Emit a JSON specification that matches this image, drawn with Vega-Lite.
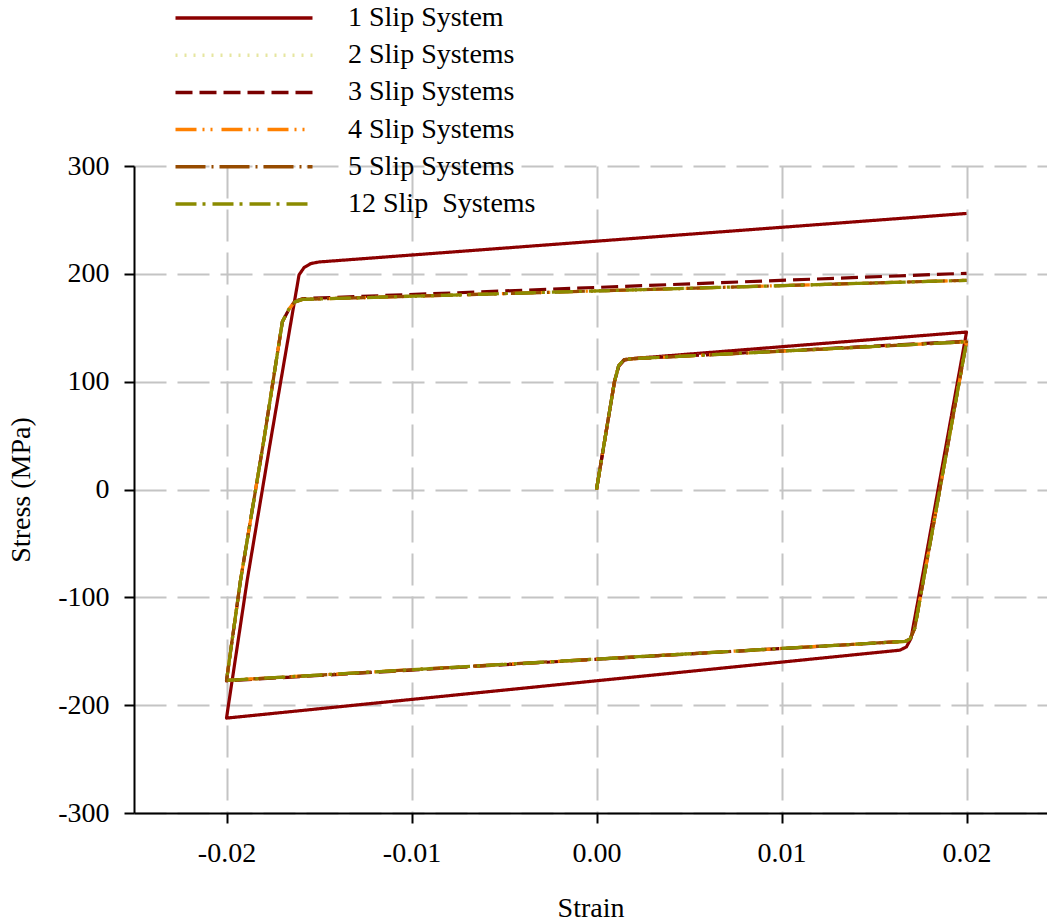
{
  "$schema": "https://vega.github.io/schema/vega-lite/v6.json",
  "width": 913,
  "height": 647,
  "autosize": {"type": "none"},
  "padding": {"left": 134, "top": 166, "right": 0, "bottom": 109},
  "background": "white",
  "config": {
    "view": {"stroke": null},
    "font": "Liberation Serif",
    "axis": {
      "labelFont": "Liberation Serif",
      "labelFontSize": 28,
      "labelColor": "black",
      "titleFont": "Liberation Serif",
      "titleFontSize": 28,
      "titleFontWeight": "normal",
      "titleColor": "black",
      "domainColor": "black",
      "domainWidth": 2,
      "tickColor": "black",
      "tickWidth": 2,
      "tickSize": 10,
      "gridColor": "#c4c4c4",
      "gridWidth": 2,
      "gridDash": [32, 11],
      "gridOpacity": 1
    }
  },
  "data": {
    "values": [
      {"s": "1 Slip System", "i": 0, "x": 0, "y": 0},
      {"s": "1 Slip System", "i": 1, "x": 0.00097, "y": 100},
      {"s": "1 Slip System", "i": 2, "x": 0.0012, "y": 114},
      {"s": "1 Slip System", "i": 3, "x": 0.0015, "y": 120},
      {"s": "1 Slip System", "i": 4, "x": 0.002, "y": 121.5},
      {"s": "1 Slip System", "i": 5, "x": 0.02, "y": 146},
      {"s": "1 Slip System", "i": 6, "x": 0.01758, "y": -84},
      {"s": "1 Slip System", "i": 7, "x": 0.017, "y": -138},
      {"s": "1 Slip System", "i": 8, "x": 0.01675, "y": -146},
      {"s": "1 Slip System", "i": 9, "x": 0.0164, "y": -149},
      {"s": "1 Slip System", "i": 10, "x": -0.02, "y": -212},
      {"s": "1 Slip System", "i": 11, "x": -0.01888, "y": -84},
      {"s": "1 Slip System", "i": 12, "x": -0.01761, "y": 46},
      {"s": "1 Slip System", "i": 13, "x": -0.01608, "y": 199},
      {"s": "1 Slip System", "i": 14, "x": -0.0158, "y": 206},
      {"s": "1 Slip System", "i": 15, "x": -0.01545, "y": 209.5},
      {"s": "1 Slip System", "i": 16, "x": -0.015, "y": 211},
      {"s": "1 Slip System", "i": 17, "x": 0.02, "y": 256},

      {"s": "2 Slip Systems", "i": 0, "x": 0, "y": 0},
      {"s": "2 Slip Systems", "i": 1, "x": 0.00097, "y": 100},
      {"s": "2 Slip Systems", "i": 2, "x": 0.0012, "y": 115},
      {"s": "2 Slip Systems", "i": 3, "x": 0.0015, "y": 120.5},
      {"s": "2 Slip Systems", "i": 4, "x": 0.002, "y": 121.3},
      {"s": "2 Slip Systems", "i": 5, "x": 0.02, "y": 137},
      {"s": "2 Slip Systems", "i": 6, "x": 0.0172, "y": -128.7},
      {"s": "2 Slip Systems", "i": 7, "x": 0.01695, "y": -138.5},
      {"s": "2 Slip Systems", "i": 8, "x": 0.0167, "y": -140.8},
      {"s": "2 Slip Systems", "i": 9, "x": -0.02, "y": -177},
      {"s": "2 Slip Systems", "i": 10, "x": -0.01924, "y": -84},
      {"s": "2 Slip Systems", "i": 11, "x": -0.01798, "y": 46},
      {"s": "2 Slip Systems", "i": 12, "x": -0.01698, "y": 155.6},
      {"s": "2 Slip Systems", "i": 13, "x": -0.0166, "y": 168},
      {"s": "2 Slip Systems", "i": 14, "x": -0.0163, "y": 174},
      {"s": "2 Slip Systems", "i": 15, "x": -0.0159, "y": 176.3},
      {"s": "2 Slip Systems", "i": 16, "x": 0.02, "y": 194},

      {"s": "3 Slip Systems", "i": 0, "x": 0, "y": 0},
      {"s": "3 Slip Systems", "i": 1, "x": 0.00097, "y": 100},
      {"s": "3 Slip Systems", "i": 2, "x": 0.0012, "y": 115},
      {"s": "3 Slip Systems", "i": 3, "x": 0.0015, "y": 120.5},
      {"s": "3 Slip Systems", "i": 4, "x": 0.002, "y": 121.3},
      {"s": "3 Slip Systems", "i": 5, "x": 0.02, "y": 137.5},
      {"s": "3 Slip Systems", "i": 6, "x": 0.0172, "y": -128.7},
      {"s": "3 Slip Systems", "i": 7, "x": 0.01695, "y": -138.5},
      {"s": "3 Slip Systems", "i": 8, "x": 0.0167, "y": -140.8},
      {"s": "3 Slip Systems", "i": 9, "x": -0.02, "y": -177.5},
      {"s": "3 Slip Systems", "i": 10, "x": -0.01924, "y": -84},
      {"s": "3 Slip Systems", "i": 11, "x": -0.01798, "y": 46},
      {"s": "3 Slip Systems", "i": 12, "x": -0.01698, "y": 155.6},
      {"s": "3 Slip Systems", "i": 13, "x": -0.0166, "y": 168},
      {"s": "3 Slip Systems", "i": 14, "x": -0.0163, "y": 174.5},
      {"s": "3 Slip Systems", "i": 15, "x": -0.0159, "y": 177},
      {"s": "3 Slip Systems", "i": 16, "x": 0.02, "y": 200.5},

      {"s": "4 Slip Systems", "i": 0, "x": 0, "y": 0},
      {"s": "4 Slip Systems", "i": 1, "x": 0.00097, "y": 100},
      {"s": "4 Slip Systems", "i": 2, "x": 0.0012, "y": 115},
      {"s": "4 Slip Systems", "i": 3, "x": 0.0015, "y": 120.5},
      {"s": "4 Slip Systems", "i": 4, "x": 0.002, "y": 121.3},
      {"s": "4 Slip Systems", "i": 5, "x": 0.02, "y": 137},
      {"s": "4 Slip Systems", "i": 6, "x": 0.0172, "y": -128.7},
      {"s": "4 Slip Systems", "i": 7, "x": 0.01695, "y": -138.5},
      {"s": "4 Slip Systems", "i": 8, "x": 0.0167, "y": -140.8},
      {"s": "4 Slip Systems", "i": 9, "x": -0.02, "y": -177},
      {"s": "4 Slip Systems", "i": 10, "x": -0.01924, "y": -84},
      {"s": "4 Slip Systems", "i": 11, "x": -0.01798, "y": 46},
      {"s": "4 Slip Systems", "i": 12, "x": -0.01698, "y": 155.6},
      {"s": "4 Slip Systems", "i": 13, "x": -0.0166, "y": 168},
      {"s": "4 Slip Systems", "i": 14, "x": -0.0163, "y": 174},
      {"s": "4 Slip Systems", "i": 15, "x": -0.0159, "y": 176.3},
      {"s": "4 Slip Systems", "i": 16, "x": 0.02, "y": 194},

      {"s": "5 Slip Systems", "i": 0, "x": 0, "y": 0},
      {"s": "5 Slip Systems", "i": 1, "x": 0.00097, "y": 100},
      {"s": "5 Slip Systems", "i": 2, "x": 0.0012, "y": 115},
      {"s": "5 Slip Systems", "i": 3, "x": 0.0015, "y": 120.5},
      {"s": "5 Slip Systems", "i": 4, "x": 0.002, "y": 121.3},
      {"s": "5 Slip Systems", "i": 5, "x": 0.02, "y": 137},
      {"s": "5 Slip Systems", "i": 6, "x": 0.0172, "y": -128.7},
      {"s": "5 Slip Systems", "i": 7, "x": 0.01695, "y": -138.5},
      {"s": "5 Slip Systems", "i": 8, "x": 0.0167, "y": -140.8},
      {"s": "5 Slip Systems", "i": 9, "x": -0.02, "y": -177},
      {"s": "5 Slip Systems", "i": 10, "x": -0.01924, "y": -84},
      {"s": "5 Slip Systems", "i": 11, "x": -0.01798, "y": 46},
      {"s": "5 Slip Systems", "i": 12, "x": -0.01698, "y": 155.6},
      {"s": "5 Slip Systems", "i": 13, "x": -0.0166, "y": 168},
      {"s": "5 Slip Systems", "i": 14, "x": -0.0163, "y": 174},
      {"s": "5 Slip Systems", "i": 15, "x": -0.0159, "y": 176.3},
      {"s": "5 Slip Systems", "i": 16, "x": 0.02, "y": 194},

      {"s": "12 Slip  Systems", "i": 0, "x": 0, "y": 0},
      {"s": "12 Slip  Systems", "i": 1, "x": 0.00097, "y": 100},
      {"s": "12 Slip  Systems", "i": 2, "x": 0.0012, "y": 115},
      {"s": "12 Slip  Systems", "i": 3, "x": 0.0015, "y": 120.5},
      {"s": "12 Slip  Systems", "i": 4, "x": 0.002, "y": 121.3},
      {"s": "12 Slip  Systems", "i": 5, "x": 0.02, "y": 137},
      {"s": "12 Slip  Systems", "i": 6, "x": 0.0172, "y": -128.7},
      {"s": "12 Slip  Systems", "i": 7, "x": 0.01695, "y": -138.5},
      {"s": "12 Slip  Systems", "i": 8, "x": 0.0167, "y": -140.8},
      {"s": "12 Slip  Systems", "i": 9, "x": -0.02, "y": -177},
      {"s": "12 Slip  Systems", "i": 10, "x": -0.01924, "y": -84},
      {"s": "12 Slip  Systems", "i": 11, "x": -0.01798, "y": 46},
      {"s": "12 Slip  Systems", "i": 12, "x": -0.01698, "y": 155.6},
      {"s": "12 Slip  Systems", "i": 13, "x": -0.0166, "y": 168},
      {"s": "12 Slip  Systems", "i": 14, "x": -0.0163, "y": 174},
      {"s": "12 Slip  Systems", "i": 15, "x": -0.0159, "y": 176.3},
      {"s": "12 Slip  Systems", "i": 16, "x": 0.02, "y": 194}
    ]
  },
  "mark": {"type": "line", "strokeWidth": 3.2, "strokeJoin": "round", "interpolate": "linear"},
  "encoding": {
    "x": {
      "field": "x",
      "type": "quantitative",
      "title": "Strain",
      "scale": {"domain": [-0.025, 0.02435], "nice": false, "zero": false},
      "axis": {
        "values": [-0.02, -0.01, 0, 0.01, 0.02],
        "labelExpr": "datum.value < 0 ? '-' + format(-datum.value, '.2f') : format(datum.value, '.2f')",
        "labelPadding": 16,
        "titlePadding": 27
      }
    },
    "y": {
      "field": "y",
      "type": "quantitative",
      "title": "Stress (MPa)",
      "scale": {"domain": [-300, 300], "nice": false},
      "axis": {
        "values": [-300, -200, -100, 0, 100, 200, 300],
        "labelExpr": "datum.value < 0 ? '-' + format(-datum.value, 'd') : format(datum.value, 'd')",
        "labelPadding": 15,
        "titlePadding": 22
      }
    },
    "order": {"field": "i", "type": "quantitative"},
    "color": {
      "field": "s",
      "type": "nominal",
      "sort": null,
      "scale": {
        "domain": ["1 Slip System", "2 Slip Systems", "3 Slip Systems", "4 Slip Systems", "5 Slip Systems", "12 Slip  Systems"],
        "range": ["#8b0000", "#e6e6a0", "#7a0000", "#ff8000", "#964b00", "#8b8b00"]
      },
      "legend": {
        "title": null,
        "orient": "none",
        "legendX": 91,
        "legendY": -167,
        "padding": 0,
        "symbolType": "M-4,0H4",
        "symbolSize": 1173,
        "symbolStrokeWidth": 3.5,
        "labelFont": "Liberation Serif",
        "labelFontSize": 28,
        "labelColor": "black",
        "labelOffset": 85,
        "labelLimit": 400,
        "rowPadding": 4.2,
        "labelExpr": "replace(datum.label, '  ', ' \u00a0')"
      }
    },
    "strokeDash": {
      "field": "s",
      "type": "nominal",
      "sort": null,
      "scale": {
        "domain": ["1 Slip System", "2 Slip Systems", "3 Slip Systems", "4 Slip Systems", "5 Slip Systems", "12 Slip  Systems"],
        "range": [[1, 0], [2, 7], [17, 7], [21, 6, 2, 6, 2, 9], [30, 6, 2, 6], [21, 6, 3, 7]]
      },
      "legend": null
    }
  }
}
